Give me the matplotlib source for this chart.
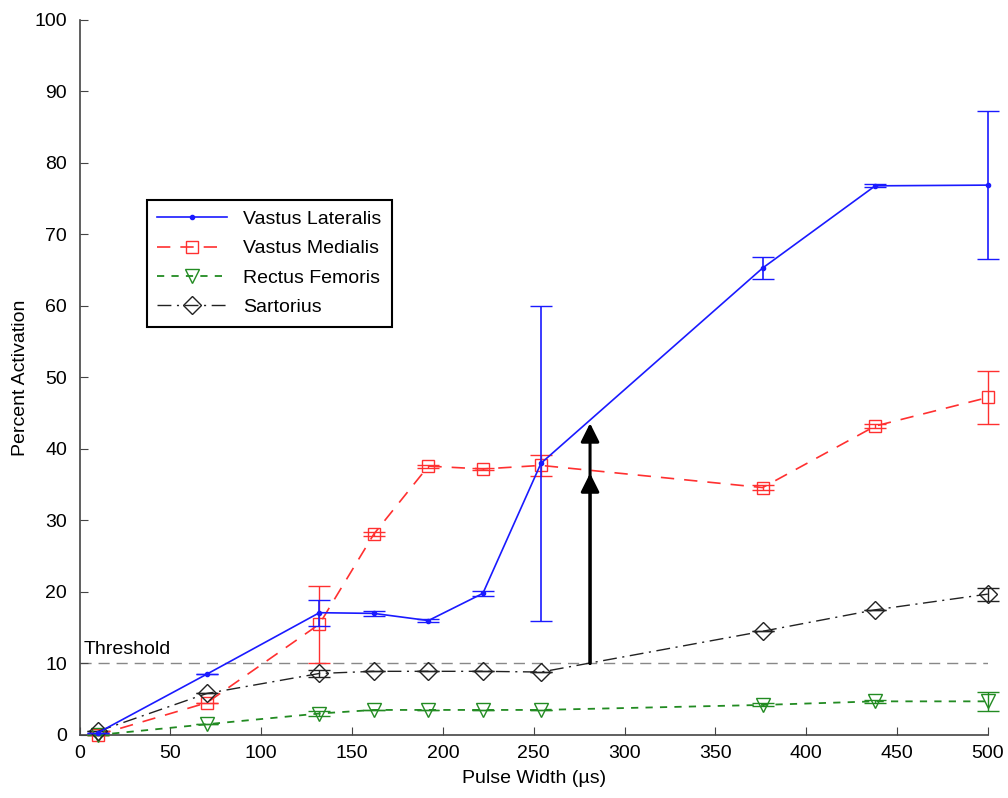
"""Percent activation vs. pulse width for four thigh muscles."""

import matplotlib

matplotlib.use("Agg")
import matplotlib.pyplot as plt
import numpy as np

plt.rcParams["font.family"] = ["Liberation Sans", "DejaVu Sans"]

pulse_width = np.array([10, 70, 132, 162, 192, 222, 254, 376, 438, 500])

vastus_lateralis = np.array([0.3, 8.5, 17.1, 17.0, 16.0, 19.8, 38.0, 65.3, 76.8, 76.9])
vl_err = np.array([0.0, 0.0, 1.8, 0.4, 0.2, 0.4, 22.0, 1.5, 0.2, 10.4])

vastus_medialis = np.array([0.0, 4.5, 15.5, 28.1, 37.6, 37.2, 37.7, 34.6, 43.2, 47.2])
vm_err = np.array([0.0, 0.0, 5.4, 0.3, 0.2, 0.2, 1.5, 0.3, 0.3, 3.7])

rectus_femoris = np.array([0.0, 1.5, 3.0, 3.5, 3.5, 3.5, 3.5, 4.2, 4.7, 4.7])
rf_err = np.array([0.0, 0.0, 0.3, 0.0, 0.0, 0.0, 0.0, 0.2, 0.2, 1.3])

sartorius = np.array([0.5, 5.8, 8.6, 8.9, 8.9, 8.9, 8.8, 14.5, 17.5, 19.7])
sa_err = np.array([0.0, 0.0, 0.5, 0.0, 0.0, 0.0, 0.0, 0.0, 0.0, 0.9])

threshold = 10
arrow_x = 281
arrow_tips = [36.6, 43.6]

fig = plt.figure(figsize=(10.08, 7.98), dpi=100)
ax = fig.add_axes([0.079, 0.079, 0.901, 0.896])

ax.axhline(threshold, color="#888888", lw=1.0, ls=(0, (8, 5)), zorder=1)
ax.text(2, threshold + 0.8, "Threshold", fontsize=14, va="bottom", ha="left")

series = [
    (vastus_lateralis, vl_err, "Vastus Lateralis",
     dict(color="#1a1aff", lw=1.2, ls="-", marker="o", ms=3, elinewidth=1.2, zorder=4)),
    (vastus_medialis, vm_err, "Vastus Medialis",
     dict(color="#ff3030", lw=1.2, ls=(0, (8, 6)), marker="s", ms=9, mfc="none",
          elinewidth=1.0, zorder=3)),
    (rectus_femoris, rf_err, "Rectus Femoris",
     dict(color="#228b22", lw=1.3, ls=(0, (4, 4)), marker="v", ms=10, mfc="none",
          elinewidth=1.0, zorder=3)),
    (sartorius, sa_err, "Sartorius",
     dict(color="#222222", lw=1.0, ls=(0, (10, 4, 1.5, 4)), marker="D", ms=9,
          mfc="none", mew=1.0, elinewidth=1.0, zorder=3)),
]

handles = []
for values, err, label, style in series:
    cont = ax.errorbar(pulse_width, values, yerr=err, capsize=8, label=label, **style)
    for artist in [cont[0], *cont[1], *cont[2]]:
        artist.set_clip_on(False)
    handles.append(cont[0])

# arrows: activation gained once threshold is crossed
for tip in arrow_tips:
    ax.annotate("", xy=(arrow_x, tip), xytext=(arrow_x, threshold),
                arrowprops=dict(arrowstyle="-|>", color="black", lw=2.2,
                                mutation_scale=28, shrinkA=0, shrinkB=0), zorder=5)

ax.set_xlim(0, 500)
ax.set_ylim(0, 100)
ax.set_xticks(np.arange(0, 501, 50))
ax.set_yticks(np.arange(0, 101, 10))
ax.tick_params(direction="in", length=6, labelsize=14, color="#444444")
ax.tick_params(axis="y", pad=9)
ax.tick_params(axis="x", pad=7)
ax.spines["top"].set_visible(False)
ax.spines["right"].set_visible(False)
for side in ("left", "bottom"):
    ax.spines[side].set_color("#444444")
    ax.spines[side].set_linewidth(1.2)
ax.set_xlabel("Pulse Width (\u00b5s)", fontsize=14, labelpad=6)
ax.set_ylabel("Percent Activation", fontsize=14, labelpad=4)

leg = ax.legend(handles, [s[2] for s in series], loc="upper left",
                bbox_to_anchor=(0.063, 0.762), fontsize=14, fancybox=False,
                edgecolor="black", framealpha=1, handlelength=3.6,
                borderpad=0.55, labelspacing=0.6, handletextpad=0.8)
leg.get_frame().set_linewidth(1.5)

fig.savefig("out.png", dpi=100)
